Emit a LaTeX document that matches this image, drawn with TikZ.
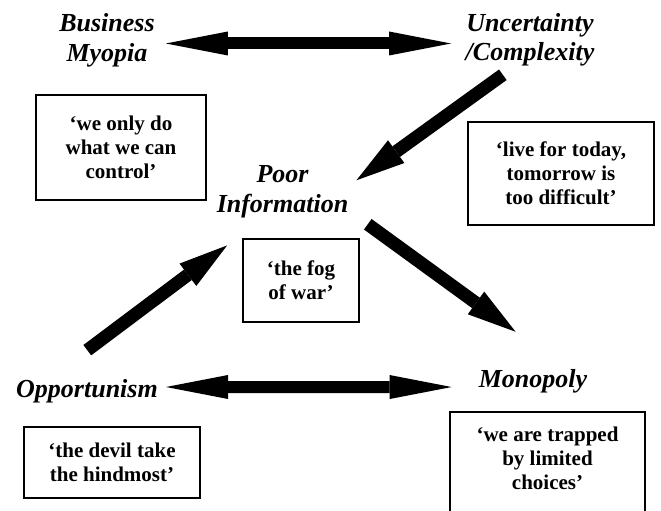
\documentclass[tikz,border=0pt]{standalone}
\usepackage{fontspec}
\setmainfont{Liberation Serif}
\usetikzlibrary{arrows.meta}

\tikzset{
  factor/.style={font=\fontsize{26}{29.5}\selectfont\bfseries\itshape, align=center, inner sep=8pt},
  quote/.style={draw, line width=1.6pt, font=\fontsize{21}{24}\selectfont\bfseries, align=center},
  twoway/.style={line width=12pt,
    {Triangle[length=62pt,width=24pt,line width=0pt]}-{Triangle[length=62pt,width=24pt,line width=0pt]}},
  oneway/.style={line width=13pt, -{Triangle[length=49pt,width=28pt,line width=0pt]}},
}

\begin{document}
\begin{tikzpicture}[x=1pt, y=1pt]
\useasboundingbox (0,0) rectangle (661,511);
% the five factors
\node[factor] (bm) at (107,470.5) {Business\\Myopia};
\node[factor] (uc) at (530,471) {Uncertainty\\/Complexity};
\node[factor] (pi) at (282.5,319) {Poor\\Information};
\node[factor, anchor=base] (opp) at (87,113) {Opportunism};
\node[factor, anchor=base] (mono) at (533,123) {Monopoly};
% what people say
\node[quote, minimum width=170pt, minimum height=105pt] (qbm) at (121,363.5) {‘we only do\\what we can\\control’};
\node[quote, minimum width=186pt, minimum height=103pt] (quc) at (561,337.5) {‘live for today,\\tomorrow is\\too difficult’};
\node[quote, minimum width=116pt, minimum height=83pt] (qpi) at (301,230.5) {‘the fog\\of war’};
\node[quote, minimum width=176pt, minimum height=71pt] (qopp) at (112,48.5) {‘the devil take\\the hindmost’};
\node[quote, minimum width=195pt, minimum height=116pt] (qmono) at (547.5,41) {‘we are trapped\\by limited\\choices’\\ \mbox{}};
% links
\draw[twoway, shorten <=3pt, shorten >=6.5pt] ([yshift=-3pt]bm.east) -- ([yshift=-3.5pt]uc.west);
\draw[twoway, shorten <=0pt, shorten >=19pt] ([yshift=4.75pt]opp.east) -- ([yshift=-5.25pt]mono.west);
\draw[oneway] (uc.232) -- (pi.9);
\draw[oneway, shorten <=14pt, shorten >=51pt] (pi.-18) -- (mono.40);
\draw[oneway, shorten <=36pt, shorten >=32pt] (opp.145) -- (pi.229);
\end{tikzpicture}
\end{document}
